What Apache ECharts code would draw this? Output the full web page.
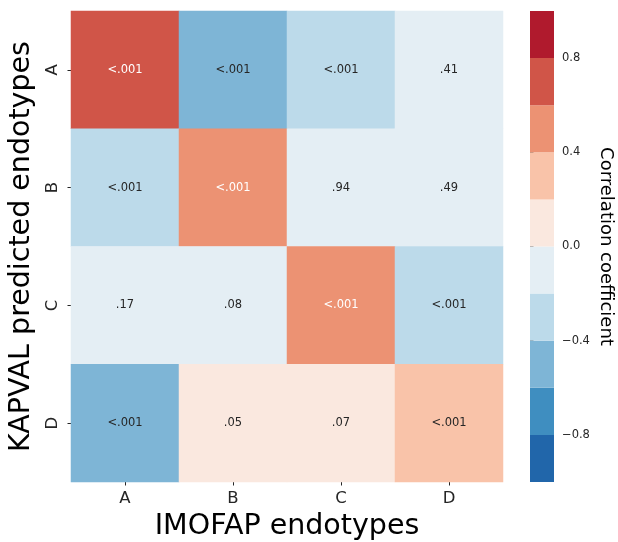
<!DOCTYPE html>
<html>
<head>
<meta charset="utf-8">
<script src="https://cdn.jsdelivr.net/npm/echarts@6/dist/echarts.min.js"></script>
<style>
  html, body { margin: 0; padding: 0; background: #fff; }
  #chart { width: 618px; height: 542px; }
</style>
</head>
<body>
<div id="chart"></div>
<script>
// Endotype agreement: correlation between IMOFAP and KAPVAL-predicted endotypes
const imofapCategories = ['A', 'B', 'C', 'D'];      // columns
const kapvalCategories = ['A', 'B', 'C', 'D'];      // rows

// Correlation coefficients, one row per KAPVAL endotype
const corrRowA = [0.72, -0.52, -0.33, -0.08];
const corrRowB = [-0.31, 0.55, -0.01, -0.07];
const corrRowC = [-0.13, -0.17, 0.52, -0.36];
const corrRowD = [-0.45, 0.19, 0.18, 0.38];

// p-values printed in each cell
const pRowA = ['<.001', '<.001', '<.001', '.41'];
const pRowB = ['<.001', '<.001', '.94', '.49'];
const pRowC = ['.17', '.08', '<.001', '<.001'];
const pRowD = ['<.001', '.05', '.07', '<.001'];

// Colour scale: 10 bins from -1 to 1 (RdBu reversed)
const binEdges = [-1, -0.8, -0.6, -0.4, -0.2, 0, 0.2, 0.4, 0.6, 0.8, 1];
const binColors = ['#2166aa', '#3f8ec0', '#7eb5d6', '#bcdaea', '#e4eef4',
                   '#fae8df', '#f9c3a9', '#ec9273', '#d05548', '#b01a2d'];
const colorbarTicks = [-0.8, -0.4, 0, 0.4, 0.8];

const corrRows = [corrRowA, corrRowB, corrRowC, corrRowD];
const pRows = [pRowA, pRowB, pRowC, pRowD];

const heatData = [];
corrRows.forEach((row, r) => {
  row.forEach((v, c) => {
    const dark = v >= 0.4 || v <= -0.6;
    heatData.push({
      value: [c, r, v],
      label: { color: dark ? '#ffffff' : '#262626' }
    });
  });
});

const pieces = binColors.map((col, i) => ({
  gte: binEdges[i], lt: binEdges[i + 1] + (i === binColors.length - 1 ? 1e-9 : 0), color: col
}));

const colorbarData = binColors.map((col, i) => [0.5, binEdges[i], binEdges[i + 1], i]);

const FONT = 'DejaVu Sans';

const chart = echarts.init(document.getElementById('chart'), null, { renderer: 'canvas' });

chart.setOption({
  animation: false,
  backgroundColor: '#ffffff',
  textStyle: { fontFamily: FONT },
  grid: [
    { left: 71, top: 11, width: 432, height: 471, containLabel: false, outerBoundsMode: 'none' },
    { left: 530, top: 11, width: 24, height: 471, containLabel: false, outerBoundsMode: 'none' }
  ],
  xAxis: [
    {
      gridIndex: 0,
      type: 'category',
      data: imofapCategories,
      position: 'bottom',
      axisLine: { show: false },
      axisTick: { show: true, alignWithLabel: true, length: 3.5, lineStyle: { color: '#262626', width: 1 } },
      axisLabel: { fontFamily: FONT, fontSize: 16.5, color: '#262626', margin: 8 },
      splitLine: { show: false },
      name: 'IMOFAP endotypes',
      nameLocation: 'middle',
      nameGap: 29,
      nameTextStyle: { fontFamily: FONT, fontSize: 28.5, color: '#000000' }
    },
    {
      gridIndex: 1,
      type: 'value',
      min: 0,
      max: 1,
      show: false
    }
  ],
  yAxis: [
    {
      gridIndex: 0,
      type: 'category',
      data: kapvalCategories,
      inverse: true,
      axisLine: { show: false },
      axisTick: { show: true, alignWithLabel: true, length: 3.5, lineStyle: { color: '#262626', width: 1 } },
      axisLabel: { fontFamily: FONT, fontSize: 16.5, color: '#262626', rotate: 90, margin: 10 },
      splitLine: { show: false },
      name: 'KAPVAL predicted endotypes',
      nameLocation: 'middle',
      nameRotate: 90,
      nameGap: 34,
      nameTextStyle: { fontFamily: FONT, fontSize: 28.5, color: '#000000' }
    },
    {
      gridIndex: 1,
      type: 'value',
      min: -1,
      max: 1,
      position: 'right',
      axisLine: { show: false },
      axisTick: { show: true, length: 3.5, customValues: colorbarTicks, lineStyle: { color: '#262626', width: 1 } },
      axisLabel: {
        fontFamily: FONT, fontSize: 11.5, color: '#262626', margin: 8,
        customValues: colorbarTicks,
        formatter: v => v.toFixed(1).replace('-', '\u2212')
      },
      splitLine: { show: false },
      name: 'Correlation coefficient',
      nameLocation: 'middle',
      nameRotate: -90,
      nameGap: 43,
      nameTextStyle: { fontFamily: FONT, fontSize: 18, color: '#000000' }
    }
  ],
  visualMap: {
    type: 'piecewise',
    show: false,
    seriesIndex: 0,
    dimension: 2,
    pieces: pieces
  },
  series: [
    {
      type: 'heatmap',
      xAxisIndex: 0,
      yAxisIndex: 0,
      data: heatData,
      label: {
        show: true,
        fontFamily: FONT,
        fontSize: 11.5,
        formatter: p => pRows[p.value[1]][p.value[0]]
      },
      itemStyle: { borderWidth: 0 },
      emphasis: { disabled: true }
    },
    {
      type: 'custom',
      xAxisIndex: 1,
      yAxisIndex: 1,
      data: colorbarData,
      encode: { x: 0, y: [1, 2] },
      silent: true,
      renderItem: (params, api) => {
        const lo = api.value(1), hi = api.value(2), idx = api.value(3);
        const p1 = api.coord([0, hi]);
        const p2 = api.coord([1, lo]);
        return {
          type: 'rect',
          shape: { x: p1[0], y: p1[1], width: p2[0] - p1[0], height: p2[1] - p1[1] },
          style: { fill: binColors[idx] }
        };
      }
    }
  ]
});
</script>
</body>
</html>
